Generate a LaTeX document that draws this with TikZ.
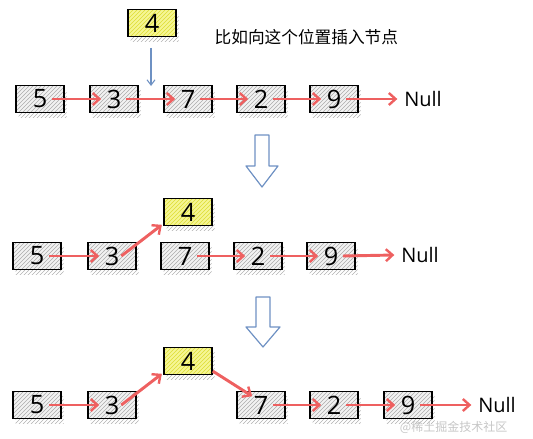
\documentclass[tikz,border=0pt]{standalone}
\usepackage{fontspec}
\setmainfont{Open Sans}
\newfontfamily\cjk{Noto Sans CJK SC}
\usetikzlibrary{arrows.meta,patterns,shadows}
\definecolor{redarr}{RGB}{238,96,96}
\definecolor{bluearr}{RGB}{110,145,195}
\definecolor{ylw}{RGB}{238,238,60}
\tikzset{
  nd/.style={draw=black, line width=1.2pt, minimum width=36pt, minimum height=20pt, inner sep=0pt,
    font=\fontsize{19}{19}\selectfont,
    general shadow={pattern=north east lines, pattern color=gray!60, shadow xshift=2pt, shadow yshift=-3.5pt},
    preaction={fill=gray!10}, pattern=north east lines, pattern color=gray!65},
  ynd/.style={nd, preaction={fill=ylw!55}, pattern color=ylw!85!olive},
  nulltxt/.style={font=\fontsize{15}{15}\selectfont, inner sep=0pt, anchor=west},
  ra/.style={draw=redarr, line width=2.2pt, -{Straight Barb[length=5pt,width=9pt,line width=1.8pt]}},
  ba/.style={draw=bluearr, line width=0.8pt, -{Straight Barb[length=4pt,width=6pt]}},
  hollow/.style={draw=bluearr, line width=0.9pt, line join=round}
}
\begin{document}
\begin{tikzpicture}[x=0.75pt,y=-0.75pt]
\useasboundingbox (0,0) rectangle (533,439);
% row 1
\node[ynd] (a4) at (152,23) {4};
\node[font=\cjk\fontsize{12.5}{12.5}\selectfont, anchor=west] (cap) at (210,37) {比如向这个位置插入节点};
\node[nd] (a5) at (40,99) {5};
\node[nd] (a3) at (114,99) {3};
\node[nd] (a7) at (188,99) {7};
\node[nd] (a2) at (261,99) {2};
\node[nd] (a9) at (334,99) {9};
\node[nulltxt] (anull) at (404,99) {Null};
\coordinate (ains) at (151,86);
\draw[ba] ([yshift=-8pt]a4.south -| ains) -- (ains);
\draw[ra] ([xshift=9pt]a5.center) -- ([xshift=9pt]a3.west);
\draw[ra] ([xshift=9pt]a3.center) -- ([xshift=9pt]a7.west);
\draw[ra] ([xshift=9pt]a7.center) -- ([xshift=9pt]a2.west);
\draw[ra] ([xshift=9pt]a2.center) -- ([xshift=9pt]a9.west);
\draw[ra] ([xshift=9pt]a9.center) -- ([xshift=-5pt]anull.west);
% hollow arrow 1
\coordinate (h1) at (262,135);
\draw[hollow] ([shift={(-7,0)}]h1) -- ([shift={(7,0)}]h1) -- ([shift={(7,31)}]h1) -- ([shift={(16,31)}]h1)
  -- ([shift={(0,52)}]h1) -- ([shift={(-16,31)}]h1) -- ([shift={(-7,31)}]h1) -- cycle;
% row 2
\node[ynd] (b4) at (188,212) {4};
\node[nd] (b5) at (37,256) {5};
\node[nd] (b3) at (112,256) {3};
\node[nd] (b7) at (185,256) {7};
\node[nd] (b2) at (258,256) {2};
\node[nd] (b9) at (331,256) {9};
\node[nulltxt] (bnull) at (401,255) {Null};
\draw[ra] ([xshift=9pt]b5.center) -- ([xshift=9pt]b3.west);
\draw[ra] ([xshift=7pt]b3.center) -- ([shift={(-1pt,1pt)}]b4.south west);
\draw[ra] ([xshift=9pt]b7.center) -- ([xshift=9pt]b2.west);
\draw[ra] ([xshift=9pt]b2.center) -- ([xshift=9pt]b9.west);
\draw[ra] ([xshift=9pt]b9.center) -- ([xshift=-5pt]bnull.west);
% hollow arrow 2
\coordinate (h2) at (263,297);
\draw[hollow] ([shift={(-7,0)}]h2) -- ([shift={(7,0)}]h2) -- ([shift={(7,30)}]h2) -- ([shift={(17,30)}]h2)
  -- ([shift={(0,50)}]h2) -- ([shift={(-17,30)}]h2) -- ([shift={(-7,30)}]h2) -- cycle;
% row 3
\node[ynd] (c4) at (188,361) {4};
\node[nd] (c5) at (37,405) {5};
\node[nd] (c3) at (112,405) {3};
\node[nd] (c7) at (261,405) {7};
\node[nd] (c2) at (334,405) {2};
\node[nd] (c9) at (408,405) {9};
\node[nulltxt] (cnull) at (478,405) {Null};
\draw[ra] ([xshift=9pt]c5.center) -- ([xshift=9pt]c3.west);
\draw[ra] ([xshift=7pt]c3.center) -- ([shift={(-1pt,1pt)}]c4.south west);
\draw[ra] ([yshift=3pt]c4.south east) -- ([shift={(12pt,-4pt)}]c7.north west);
\draw[ra] ([xshift=9pt]c7.center) -- ([xshift=9pt]c2.west);
\draw[ra] ([xshift=9pt]c2.center) -- ([xshift=9pt]c9.west);
\draw[ra] ([xshift=9pt]c9.center) -- ([xshift=-5pt]cnull.west);
\node[font=\cjk\fontsize{9}{9}\selectfont, text=gray!45, anchor=east] (wm) at (512,427) {@稀土掘金技术社区};
\end{tikzpicture}
\end{document}
